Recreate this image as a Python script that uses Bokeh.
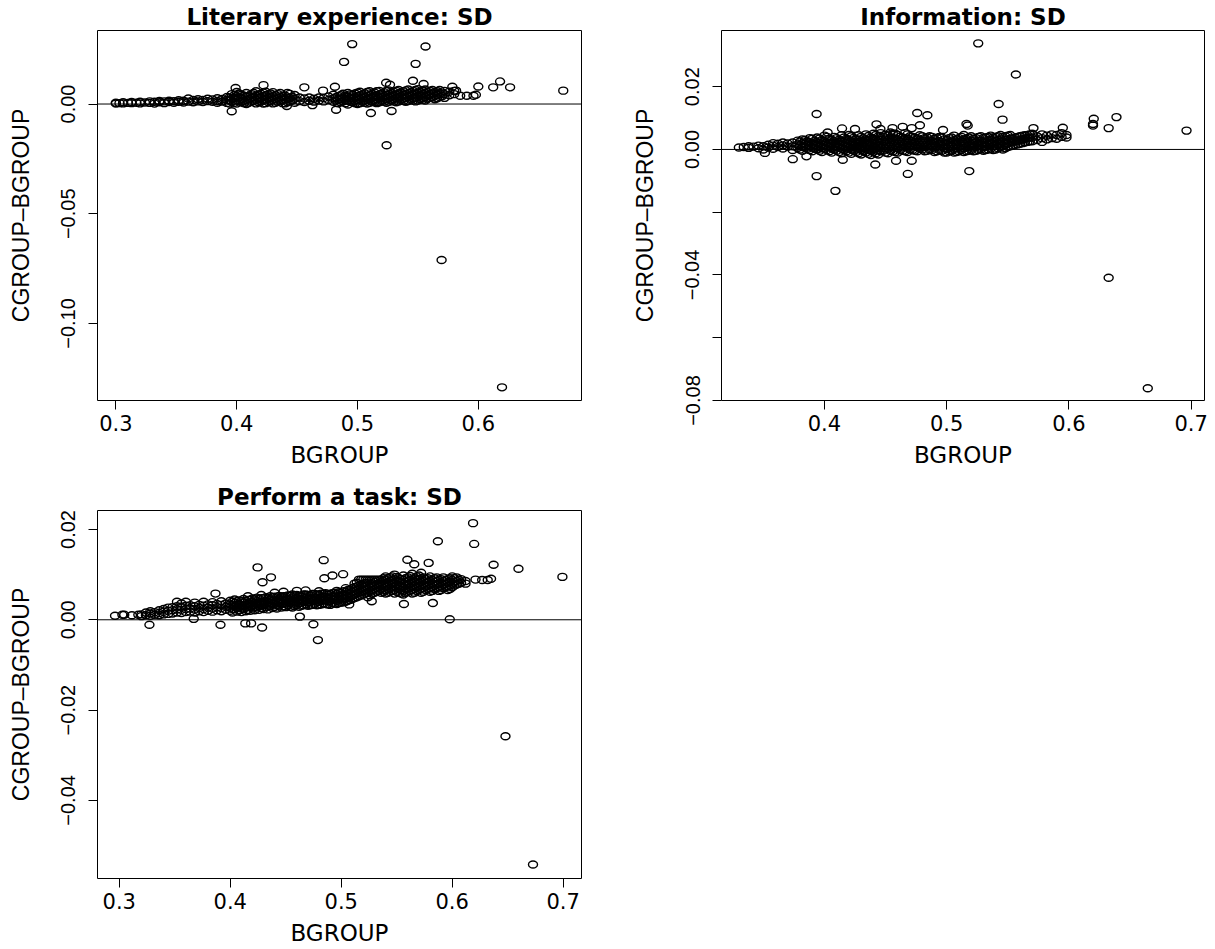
from bokeh.plotting import figure
from bokeh.models import Range1d, FixedTicker, Span, ColumnDataSource
from bokeh.layouts import column, row
from bokeh.embed import file_html
from bokeh.resources import INLINE

X_LABEL = "BGROUP"
Y_LABEL = "CGROUP\u2013BGROUP"
TITLES = ["Literary experience: SD", "Information: SD", "Perform a task: SD"]

# ---------------- Panel 1: Literary experience ----------------
lit_band = [
    (0.300, [0.0002, 0.0006]), (0.303, [0.0004]), (0.306, [0.0003, 0.0008]),
    (0.310, [0.0005]), (0.313, [0.0004, 0.0009]), (0.317, [0.0006]),
    (0.320, [0.0003, 0.0010]), (0.324, [0.0007]), (0.328, [0.0005, 0.0012]),
    (0.332, [0.0002, 0.0010]), (0.336, [0.0008, 0.0014]), (0.340, [0.0004, 0.0012]),
    (0.344, [0.0009, 0.0015]), (0.348, [0.0006, 0.0013]), (0.352, [0.0010, 0.0017]),
    (0.356, [0.0007, 0.0015]), (0.360, [0.0011, 0.0025]), (0.364, [0.0008, 0.0018]),
    (0.368, [0.0012, 0.0022]), (0.372, [0.0009, 0.0019]), (0.376, [0.0013, 0.0024]),
    (0.380, [0.0010, 0.0021]), (0.384, [0.0006, 0.0014, 0.0026]), (0.388, [0.0011, 0.0023]),
    (0.392, [0.0005, 0.0018, 0.0032]), (0.396, [0.0010, 0.0025, 0.0045]),
    (0.400, [0.0002, 0.0020, 0.0036, 0.0055]), (0.404, [0.0008, 0.0024, 0.0042]),
    (0.408, [0.0000, 0.0018, 0.0033, 0.0050]), (0.412, [0.0010, 0.0027, 0.0045]),
    (0.416, [0.0003, 0.0020, 0.0038, 0.0058]), (0.420, [0.0012, 0.0029, 0.0047]),
    (0.424, [0.0004, 0.0021, 0.0040, 0.0056]), (0.428, [0.0013, 0.0030, 0.0048]),
    (0.432, [0.0006, 0.0023, 0.0041]), (0.436, [0.0014, 0.0031, 0.0050]),
    (0.440, [0.0003, 0.0022, 0.0039]), (0.444, [0.0012, 0.0028, 0.0046]),
    (0.448, [0.0006, 0.0024, 0.0041]), (0.452, [0.0013, 0.0030]),
    (0.456, [0.0009, 0.0025]), (0.460, [0.0015, 0.0030]), (0.464, [0.0011, 0.0024]),
    (0.468, [0.0016, 0.0030]), (0.472, [0.0012, 0.0027]), (0.476, [0.0018, 0.0034]),
    (0.480, [0.0010, 0.0026, 0.0042]), (0.484, [0.0004, 0.0020, 0.0036]),
    (0.488, [0.0012, 0.0029, 0.0047]), (0.492, [-0.0002, 0.0016, 0.0033, 0.0050]),
    (0.496, [0.0008, 0.0025, 0.0042]), (0.500, [0.0000, 0.0018, 0.0035, 0.0052]),
    (0.504, [0.0010, 0.0027, 0.0044]), (0.508, [0.0002, 0.0020, 0.0037, 0.0055]),
    (0.512, [0.0012, 0.0029, 0.0046]), (0.516, [0.0004, 0.0022, 0.0039, 0.0058]),
    (0.520, [0.0014, 0.0031, 0.0048]), (0.524, [0.0006, 0.0024, 0.0041, 0.0060]),
    (0.528, [0.0016, 0.0033, 0.0050]), (0.532, [0.0008, 0.0026, 0.0043, 0.0060]),
    (0.536, [0.0018, 0.0035, 0.0052]), (0.540, [0.0010, 0.0028, 0.0045, 0.0062]),
    (0.544, [0.0020, 0.0037, 0.0054]), (0.548, [0.0012, 0.0030, 0.0047, 0.0064]),
    (0.552, [0.0022, 0.0039, 0.0056]), (0.556, [0.0016, 0.0033, 0.0050, 0.0066]),
    (0.560, [0.0028, 0.0044, 0.0060]), (0.564, [0.0022, 0.0038, 0.0055]),
    (0.568, [0.0032, 0.0048, 0.0064]), (0.572, [0.0028, 0.0045, 0.0060]),
    (0.576, [0.0040, 0.0056]), (0.580, [0.0045, 0.0060]),
]
lit_fill = [
    (0.394, [0.0002, 0.0016, 0.0030]), (0.398, [0.0006, 0.0028, 0.0040]),
    (0.402, [0.0012, 0.0030, 0.0048]), (0.406, [0.0004, 0.0014, 0.0038]),
    (0.410, [0.0006, 0.0022, 0.0036]), (0.414, [0.0014, 0.0032, 0.0050]),
    (0.418, [0.0008, 0.0026, 0.0043]), (0.422, [0.0002, 0.0018, 0.0035, 0.0052]),
    (0.426, [0.0009, 0.0026, 0.0044]), (0.430, [0.0003, 0.0020, 0.0036, 0.0054]),
    (0.434, [0.0010, 0.0027, 0.0045]), (0.438, [0.0004, 0.0020, 0.0037]),
    (0.442, [0.0008, 0.0030, 0.0050]), (0.446, [0.0016, 0.0033]),
    (0.482, [0.0016, 0.0031]), (0.486, [0.0008, 0.0024, 0.0040]),
    (0.490, [0.0004, 0.0021, 0.0038]), (0.494, [0.0010, 0.0027, 0.0044]),
    (0.498, [0.0004, 0.0014, 0.0031, 0.0048]), (0.502, [0.0004, 0.0022, 0.0040, 0.0056]),
    (0.506, [0.0006, 0.0016, 0.0032, 0.0049]), (0.510, [0.0006, 0.0024, 0.0041, 0.0058]),
    (0.514, [0.0008, 0.0018, 0.0034, 0.0052]), (0.518, [0.0008, 0.0026, 0.0044, 0.0060]),
    (0.522, [0.0010, 0.0020, 0.0036, 0.0054]), (0.526, [0.0010, 0.0028, 0.0046, 0.0062]),
    (0.530, [0.0012, 0.0022, 0.0039, 0.0056]), (0.534, [0.0012, 0.0030, 0.0048, 0.0064]),
    (0.538, [0.0014, 0.0024, 0.0041, 0.0058]), (0.542, [0.0014, 0.0032, 0.0050, 0.0066]),
    (0.546, [0.0016, 0.0026, 0.0043, 0.0060]), (0.550, [0.0016, 0.0034, 0.0052, 0.0068]),
    (0.554, [0.0020, 0.0028, 0.0045, 0.0062]), (0.558, [0.0024, 0.0040, 0.0056]),
    (0.562, [0.0030, 0.0048, 0.0064]), (0.566, [0.0026, 0.0042, 0.0058]),
    (0.570, [0.0036, 0.0052]),
]
lit_out_x = [0.4956, 0.5563, 0.4889, 0.5481, 0.5459, 0.5237, 0.5269, 0.5547, 0.4222,
             0.4560, 0.4813, 0.4715, 0.3991, 0.5785, 0.5816, 0.6000, 0.6123, 0.6180,
             0.6263, 0.6703, 0.5850, 0.5905, 0.5960, 0.5980, 0.5241, 0.5696, 0.6196,
             0.3959, 0.4823, 0.5111, 0.5282, 0.4627, 0.4415]
lit_out_y = [0.0273, 0.0262, 0.0192, 0.0183, 0.0106, 0.0097, 0.0088, 0.0091, 0.0086,
             0.0076, 0.0079, 0.0061, 0.0073, 0.0079, 0.0061, 0.0080, 0.0076, 0.0103,
             0.0076, 0.0061, 0.0038, 0.0038, 0.0038, 0.0042, -0.0188, -0.0711, -0.1291,
             -0.0033, -0.0026, -0.0041, -0.0032, -0.0005, -0.0009]

# ---------------- Panel 2: Information ----------------
inf_band = [
    (0.330, [0.0006]), (0.334, [0.0008]), (0.338, [0.0005, 0.0010]), (0.342, [0.0009]),
    (0.346, [0.0004, 0.0012]), (0.350, [0.0000, 0.0010]), (0.354, [0.0006, 0.0015]),
    (0.358, [0.0002, 0.0012, 0.0020]), (0.362, [0.0008, 0.0018]),
    (0.366, [0.0003, 0.0013, 0.0022]), (0.370, [0.0009, 0.0019]),
    (0.374, [-0.0002, 0.0010, 0.0022]), (0.378, [0.0005, 0.0016, 0.0028]),
    (0.382, [-0.0004, 0.0008, 0.0020, 0.0032]), (0.386, [0.0002, 0.0014, 0.0026]),
    (0.390, [-0.0006, 0.0006, 0.0018, 0.0034]), (0.394, [0.0000, 0.0012, 0.0024, 0.0038]),
    (0.398, [-0.0008, 0.0004, 0.0016, 0.0030]), (0.402, [-0.0002, 0.0010, 0.0022, 0.0040]),
    (0.406, [-0.0010, 0.0004, 0.0017, 0.0031]), (0.410, [-0.0004, 0.0008, 0.0021, 0.0036]),
    (0.414, [-0.0012, 0.0002, 0.0015, 0.0028, 0.0045]),
    (0.418, [-0.0006, 0.0008, 0.0020, 0.0034]),
    (0.422, [-0.0014, 0.0000, 0.0013, 0.0027, 0.0042]),
    (0.426, [-0.0008, 0.0006, 0.0019, 0.0033]),
    (0.430, [-0.0016, -0.0002, 0.0012, 0.0026, 0.0040]),
    (0.434, [-0.0010, 0.0004, 0.0018, 0.0032, 0.0048]),
    (0.438, [-0.0018, -0.0004, 0.0010, 0.0024, 0.0038]),
    (0.442, [-0.0012, 0.0003, 0.0017, 0.0031, 0.0046]),
    (0.446, [-0.0006, 0.0008, 0.0022, 0.0036, 0.0052]),
    (0.450, [-0.0010, 0.0004, 0.0018, 0.0032, 0.0047]),
    (0.454, [-0.0004, 0.0010, 0.0024, 0.0038, 0.0054]),
    (0.458, [-0.0008, 0.0006, 0.0020, 0.0034, 0.0050]),
    (0.462, [-0.0002, 0.0012, 0.0026, 0.0040]),
    (0.466, [-0.0006, 0.0008, 0.0022, 0.0036, 0.0052]),
    (0.470, [0.0000, 0.0014, 0.0028, 0.0042]), (0.474, [-0.0004, 0.0010, 0.0024, 0.0038]),
    (0.478, [0.0002, 0.0016, 0.0030, 0.0045]), (0.482, [-0.0006, 0.0008, 0.0022, 0.0036]),
    (0.486, [0.0000, 0.0014, 0.0028, 0.0042]), (0.490, [-0.0008, 0.0006, 0.0020, 0.0034]),
    (0.494, [-0.0002, 0.0012, 0.0026, 0.0040]), (0.498, [-0.0010, 0.0004, 0.0018, 0.0032]),
    (0.502, [-0.0006, 0.0008, 0.0022, 0.0036]),
    (0.506, [-0.0010, 0.0002, 0.0016, 0.0030, 0.0044]),
    (0.510, [-0.0006, 0.0008, 0.0022, 0.0036]),
    (0.514, [-0.0008, 0.0004, 0.0018, 0.0032, 0.0046]),
    (0.518, [-0.0004, 0.0010, 0.0024, 0.0038]), (0.522, [-0.0006, 0.0006, 0.0020, 0.0034]),
    (0.526, [-0.0002, 0.0012, 0.0026, 0.0040]), (0.530, [-0.0004, 0.0008, 0.0022, 0.0036]),
    (0.534, [0.0000, 0.0014, 0.0028, 0.0040]), (0.538, [-0.0002, 0.0010, 0.0024, 0.0038]),
    (0.542, [0.0004, 0.0016, 0.0030, 0.0042]), (0.546, [0.0000, 0.0012, 0.0026, 0.0040]),
    (0.550, [0.0008, 0.0020, 0.0032, 0.0044]), (0.554, [0.0012, 0.0024, 0.0036]),
    (0.558, [0.0016, 0.0028, 0.0040]), (0.562, [0.0020, 0.0032, 0.0044]),
    (0.566, [0.0024, 0.0036, 0.0046]), (0.570, [0.0026, 0.0038, 0.0050]),
    (0.574, [0.0030, 0.0042]), (0.578, [0.0024, 0.0036, 0.0048]),
    (0.582, [0.0032, 0.0044]), (0.586, [0.0036, 0.0048]), (0.590, [0.0034, 0.0046]),
    (0.594, [0.0040, 0.0052]), (0.598, [0.0038, 0.0046]),
]
inf_fill = [
    (0.380, [0.0000, 0.0013, 0.0025]), (0.384, [0.0006, 0.0018, 0.0030]),
    (0.388, [-0.0002, 0.0010, 0.0023, 0.0036]), (0.392, [0.0003, 0.0015, 0.0028]),
    (0.396, [-0.0004, 0.0008, 0.0021, 0.0035]), (0.400, [0.0002, 0.0014, 0.0027, 0.0044]),
    (0.404, [-0.0006, 0.0007, 0.0020, 0.0034]), (0.408, [0.0000, 0.0012, 0.0026, 0.0040]),
    (0.412, [-0.0008, 0.0005, 0.0018, 0.0031]), (0.416, [-0.0002, 0.0011, 0.0024, 0.0038]),
    (0.420, [-0.0010, 0.0004, 0.0017, 0.0030, 0.0046]),
    (0.424, [-0.0004, 0.0010, 0.0023, 0.0037]),
    (0.428, [-0.0012, 0.0002, 0.0016, 0.0030, 0.0045]),
    (0.432, [-0.0006, 0.0008, 0.0022, 0.0036]),
    (0.436, [-0.0014, 0.0000, 0.0014, 0.0028, 0.0043]),
    (0.440, [-0.0008, 0.0006, 0.0020, 0.0034, 0.0050]),
    (0.444, [-0.0016, -0.0002, 0.0012, 0.0026, 0.0041]),
    (0.448, [-0.0004, 0.0011, 0.0025, 0.0040]),
    (0.452, [-0.0012, 0.0002, 0.0016, 0.0030, 0.0044]),
    (0.456, [-0.0006, 0.0008, 0.0022, 0.0036, 0.0050]),
    (0.460, [-0.0010, 0.0004, 0.0018, 0.0032, 0.0046]),
    (0.464, [-0.0004, 0.0010, 0.0024, 0.0038]),
    (0.468, [-0.0008, 0.0006, 0.0020, 0.0034, 0.0048]),
    (0.472, [-0.0002, 0.0012, 0.0026, 0.0040]), (0.476, [-0.0006, 0.0008, 0.0022, 0.0036]),
    (0.480, [0.0000, 0.0014, 0.0028, 0.0042]), (0.484, [-0.0004, 0.0010, 0.0024, 0.0038]),
    (0.488, [-0.0002, 0.0012, 0.0026, 0.0040]), (0.492, [-0.0006, 0.0008, 0.0022, 0.0036]),
    (0.496, [-0.0004, 0.0010, 0.0024, 0.0038]), (0.500, [-0.0010, 0.0002, 0.0016, 0.0030]),
    (0.504, [-0.0004, 0.0010, 0.0024, 0.0038]), (0.508, [-0.0008, 0.0004, 0.0018, 0.0032]),
    (0.512, [-0.0002, 0.0012, 0.0026, 0.0040]), (0.516, [-0.0006, 0.0006, 0.0020, 0.0034]),
    (0.520, [-0.0002, 0.0012, 0.0028, 0.0042]), (0.524, [-0.0004, 0.0008, 0.0022, 0.0036]),
    (0.528, [0.0000, 0.0014, 0.0028, 0.0042]), (0.532, [-0.0002, 0.0010, 0.0024, 0.0038]),
    (0.536, [0.0002, 0.0016, 0.0030, 0.0044]), (0.540, [0.0000, 0.0012, 0.0026, 0.0040]),
    (0.544, [0.0006, 0.0018, 0.0032, 0.0046]), (0.548, [0.0004, 0.0016, 0.0030, 0.0042]),
    (0.552, [0.0010, 0.0022, 0.0034, 0.0046]), (0.556, [0.0014, 0.0026, 0.0038]),
    (0.560, [0.0018, 0.0030, 0.0042]), (0.564, [0.0022, 0.0034, 0.0045]),
    (0.568, [0.0026, 0.0038, 0.0048]),
]
inf_out_x = [0.5258, 0.5566, 0.5425, 0.5457, 0.3936, 0.4759, 0.4842, 0.6203, 0.6197,
             0.6197, 0.6389, 0.6325, 0.6962, 0.5950, 0.5710, 0.5162, 0.5172, 0.4426,
             0.4144, 0.4250, 0.4458, 0.4557, 0.4640, 0.4714, 0.4781, 0.4970, 0.4026,
             0.3741, 0.3853, 0.3936, 0.4090, 0.4150, 0.4416, 0.4586, 0.4682, 0.4714,
             0.5185, 0.3513, 0.6325, 0.6645]
inf_out_y = [0.0338, 0.0239, 0.0145, 0.0095, 0.0113, 0.0116, 0.0109, 0.0098, 0.0081,
             0.0076, 0.0103, 0.0068, 0.0060, 0.0069, 0.0068, 0.0081, 0.0076, 0.0080,
             0.0067, 0.0065, 0.0065, 0.0068, 0.0072, 0.0068, 0.0077, 0.0062, 0.0054,
             -0.0031, -0.0022, -0.0085, -0.0132, -0.0033, -0.0048, -0.0036, -0.0078,
             -0.0036, -0.0069, -0.0011, -0.0409, -0.0761]

# ---------------- Panel 3: Perform a task ----------------
task_band = [
    (0.320, [0.0008, 0.0012]), (0.324, [0.0010, 0.0016]), (0.328, [0.0009, 0.0014, 0.0019]),
    (0.332, [0.0011, 0.0017]), (0.336, [0.0010, 0.0015, 0.0021]),
    (0.340, [0.0012, 0.0018, 0.0024]), (0.344, [0.0013, 0.0020, 0.0027]),
    (0.348, [0.0014, 0.0021, 0.0028]), (0.352, [0.0016, 0.0023, 0.0030, 0.0040]),
    (0.356, [0.0015, 0.0022, 0.0029, 0.0036]), (0.360, [0.0017, 0.0024, 0.0031, 0.0040]),
    (0.364, [0.0018, 0.0025, 0.0032]), (0.368, [0.0016, 0.0023, 0.0030, 0.0038]),
    (0.372, [0.0019, 0.0026, 0.0033]), (0.376, [0.0017, 0.0024, 0.0031, 0.0040]),
    (0.380, [0.0020, 0.0027, 0.0034]), (0.384, [0.0018, 0.0025, 0.0032, 0.0039]),
    (0.388, [0.0021, 0.0028, 0.0035]), (0.392, [0.0019, 0.0026, 0.0033, 0.0041]),
    (0.396, [0.0022, 0.0029, 0.0036]), (0.400, [0.0020, 0.0027, 0.0034, 0.0042]),
    (0.404, [0.0023, 0.0030, 0.0037, 0.0045]), (0.408, [0.0021, 0.0028, 0.0035, 0.0043]),
    (0.412, [0.0024, 0.0031, 0.0038, 0.0046]),
    (0.416, [0.0022, 0.0029, 0.0036, 0.0044, 0.0052]),
    (0.420, [0.0025, 0.0032, 0.0039, 0.0047]), (0.424, [0.0027, 0.0034, 0.0041, 0.0049]),
    (0.428, [0.0026, 0.0033, 0.0040, 0.0048, 0.0055]),
    (0.432, [0.0028, 0.0035, 0.0042, 0.0050]), (0.436, [0.0030, 0.0037, 0.0044, 0.0052]),
    (0.440, [0.0029, 0.0036, 0.0043, 0.0051, 0.0060]),
    (0.444, [0.0031, 0.0038, 0.0045, 0.0053]),
    (0.448, [0.0030, 0.0037, 0.0044, 0.0052, 0.0062]),
    (0.452, [0.0032, 0.0039, 0.0046, 0.0054]),
    (0.456, [0.0027, 0.0034, 0.0041, 0.0048, 0.0056]),
    (0.460, [0.0033, 0.0040, 0.0047, 0.0055, 0.0064]),
    (0.464, [0.0031, 0.0038, 0.0045, 0.0053]),
    (0.468, [0.0034, 0.0041, 0.0048, 0.0056, 0.0065]),
    (0.472, [0.0032, 0.0039, 0.0046, 0.0054]), (0.476, [0.0035, 0.0042, 0.0049, 0.0057]),
    (0.480, [0.0033, 0.0040, 0.0047, 0.0055, 0.0063]),
    (0.484, [0.0036, 0.0043, 0.0050, 0.0058]), (0.488, [0.0034, 0.0041, 0.0048, 0.0056]),
    (0.492, [0.0037, 0.0044, 0.0051, 0.0059]),
    (0.496, [0.0035, 0.0042, 0.0049, 0.0057, 0.0064]),
    (0.500, [0.0038, 0.0045, 0.0052, 0.0060]),
    (0.504, [0.0040, 0.0047, 0.0054, 0.0062, 0.0070]),
    (0.508, [0.0044, 0.0051, 0.0058, 0.0066]),
    (0.512, [0.0048, 0.0056, 0.0064, 0.0072, 0.0080]),
    (0.516, [0.0052, 0.0060, 0.0068, 0.0076, 0.0089]),
    (0.520, [0.0056, 0.0064, 0.0072, 0.0080, 0.0089]),
    (0.524, [0.0050, 0.0060, 0.0068, 0.0076, 0.0089]),
    (0.528, [0.0058, 0.0066, 0.0074, 0.0081, 0.0089]),
    (0.532, [0.0062, 0.0070, 0.0078, 0.0089]),
    (0.536, [0.0060, 0.0068, 0.0076, 0.0083, 0.0089]),
    (0.540, [0.0058, 0.0066, 0.0074, 0.0081, 0.0089, 0.0096]),
    (0.544, [0.0062, 0.0070, 0.0078, 0.0086, 0.0094]),
    (0.548, [0.0058, 0.0066, 0.0074, 0.0082, 0.0090, 0.0100]),
    (0.552, [0.0060, 0.0068, 0.0076, 0.0084, 0.0092]),
    (0.556, [0.0056, 0.0064, 0.0072, 0.0080, 0.0088, 0.0098]),
    (0.560, [0.0062, 0.0070, 0.0078, 0.0086, 0.0094]),
    (0.564, [0.0058, 0.0066, 0.0074, 0.0082, 0.0090, 0.0102]),
    (0.568, [0.0064, 0.0072, 0.0080, 0.0088, 0.0096]),
    (0.572, [0.0060, 0.0068, 0.0076, 0.0084, 0.0092, 0.0104]),
    (0.576, [0.0066, 0.0074, 0.0082, 0.0090]),
    (0.580, [0.0062, 0.0070, 0.0078, 0.0086, 0.0096]),
    (0.584, [0.0068, 0.0076, 0.0084, 0.0092]), (0.588, [0.0064, 0.0072, 0.0080, 0.0088]),
    (0.592, [0.0070, 0.0078, 0.0086, 0.0094]), (0.596, [0.0066, 0.0074, 0.0082, 0.0090]),
    (0.600, [0.0072, 0.0080, 0.0088, 0.0096]), (0.604, [0.0078, 0.0086, 0.0094]),
    (0.608, [0.0082, 0.0090]), (0.612, [0.0080, 0.0086]),
]
task_fill = [
    (0.402, [0.0016, 0.0024, 0.0032, 0.0040]), (0.406, [0.0018, 0.0026, 0.0033, 0.0041]),
    (0.410, [0.0017, 0.0025, 0.0033, 0.0041]), (0.414, [0.0019, 0.0027, 0.0034, 0.0042]),
    (0.418, [0.0020, 0.0028, 0.0036, 0.0044]), (0.422, [0.0021, 0.0029, 0.0037, 0.0045]),
    (0.426, [0.0022, 0.0030, 0.0038, 0.0046]), (0.430, [0.0024, 0.0032, 0.0040, 0.0048]),
    (0.434, [0.0023, 0.0031, 0.0039, 0.0047]), (0.438, [0.0026, 0.0034, 0.0042, 0.0050]),
    (0.442, [0.0025, 0.0033, 0.0041, 0.0049]), (0.446, [0.0027, 0.0035, 0.0043, 0.0051]),
    (0.450, [0.0028, 0.0036, 0.0044, 0.0052]), (0.454, [0.0029, 0.0037, 0.0045, 0.0053]),
    (0.458, [0.0030, 0.0038, 0.0046, 0.0054]), (0.462, [0.0029, 0.0037, 0.0045, 0.0053]),
    (0.466, [0.0032, 0.0040, 0.0048, 0.0056]), (0.470, [0.0031, 0.0039, 0.0047, 0.0055]),
    (0.474, [0.0033, 0.0041, 0.0049, 0.0057]), (0.478, [0.0032, 0.0040, 0.0048, 0.0056]),
    (0.482, [0.0034, 0.0042, 0.0050, 0.0058]), (0.486, [0.0035, 0.0043, 0.0051, 0.0059]),
    (0.490, [0.0033, 0.0041, 0.0049, 0.0057]), (0.494, [0.0036, 0.0044, 0.0052, 0.0060]),
    (0.498, [0.0037, 0.0045, 0.0053, 0.0061]), (0.502, [0.0039, 0.0047, 0.0055, 0.0063]),
    (0.506, [0.0042, 0.0050, 0.0058, 0.0066]), (0.510, [0.0046, 0.0054, 0.0062, 0.0070]),
    (0.514, [0.0050, 0.0058, 0.0066, 0.0074, 0.0082]),
    (0.518, [0.0054, 0.0062, 0.0070, 0.0078, 0.0089]),
    (0.522, [0.0058, 0.0066, 0.0074, 0.0082, 0.0089]),
    (0.526, [0.0054, 0.0064, 0.0072, 0.0080, 0.0089]),
    (0.530, [0.0060, 0.0068, 0.0076, 0.0084, 0.0089]),
    (0.534, [0.0064, 0.0072, 0.0080, 0.0089]),
    (0.538, [0.0062, 0.0070, 0.0078, 0.0086, 0.0092]),
    (0.542, [0.0060, 0.0068, 0.0076, 0.0084, 0.0092]),
    (0.546, [0.0064, 0.0072, 0.0080, 0.0088, 0.0096]),
    (0.550, [0.0062, 0.0070, 0.0078, 0.0086, 0.0095]),
    (0.554, [0.0058, 0.0066, 0.0074, 0.0082, 0.0090]),
    (0.558, [0.0060, 0.0068, 0.0076, 0.0084, 0.0092]),
    (0.562, [0.0064, 0.0072, 0.0080, 0.0088, 0.0097]),
    (0.566, [0.0060, 0.0068, 0.0076, 0.0084, 0.0092]),
    (0.570, [0.0066, 0.0074, 0.0082, 0.0090, 0.0098]),
    (0.574, [0.0062, 0.0070, 0.0078, 0.0086, 0.0094]),
    (0.578, [0.0068, 0.0076, 0.0084, 0.0092]), (0.582, [0.0064, 0.0072, 0.0080, 0.0088]),
    (0.586, [0.0070, 0.0078, 0.0086, 0.0094]), (0.590, [0.0066, 0.0074, 0.0082, 0.0090]),
    (0.594, [0.0072, 0.0080, 0.0088]), (0.598, [0.0068, 0.0076, 0.0084, 0.0092]),
    (0.602, [0.0076, 0.0084, 0.0092]), (0.606, [0.0080, 0.0088]),
]
task_out_x = [0.6188, 0.6198, 0.5871, 0.4842, 0.5596, 0.5658, 0.5788, 0.4246, 0.6373,
              0.6597, 0.6993, 0.4367, 0.4291, 0.5017, 0.4921, 0.4848, 0.3867, 0.6210,
              0.6270, 0.6320, 0.6350, 0.5565, 0.5826, 0.5275, 0.5072, 0.5978, 0.4628,
              0.3671, 0.3272, 0.3912, 0.4136, 0.4188, 0.4287, 0.4749, 0.4790, 0.6480,
              0.6728, 0.2962, 0.3028, 0.3045, 0.3114, 0.3172]
task_out_y = [0.0214, 0.0168, 0.0174, 0.0132, 0.0133, 0.0123, 0.0126, 0.0116, 0.0122,
              0.0113, 0.0095, 0.0094, 0.0083, 0.0101, 0.0098, 0.0092, 0.0058, 0.0089,
              0.0088, 0.0088, 0.0091, 0.0035, 0.0037, 0.0041, 0.0034, 0.0001, 0.0007,
              0.0002, -0.0011, -0.0011, -0.0008, -0.0008, -0.0017, -0.0010, -0.0045,
              -0.0258, -0.0542, 0.0009, 0.0011, 0.0011, 0.0010, 0.0011]

# axis ticks and labels
lit_xticks = [0.3, 0.4, 0.5, 0.6]
lit_yticks = [0.0, -0.05, -0.10]
lit_ylabels = ["0.00", "\u22120.05", "\u22120.10"]
inf_xticks = [0.4, 0.5, 0.6, 0.7]
inf_yticks = [0.02, 0.0, -0.02, -0.04, -0.06, -0.08]
inf_ylabels = ["0.02", "0.00", "", "\u22120.04", "", "\u22120.08"]
task_xticks = [0.3, 0.4, 0.5, 0.6, 0.7]
task_yticks = [0.02, 0.0, -0.02, -0.04]
task_ylabels = ["0.02", "0.00", "\u22120.02", "\u22120.04"]


def expand(bands, ox, oy):
    xs, ys = [], []
    for band in bands:
        for x, yl in band:
            for y in yl:
                xs.append(x)
                ys.append(y)
    return xs + list(ox), ys + list(oy)


def panel(title, xs, ys, xr, yr, xticks, yticks, ylabels, width, height, right, bottom):
    p = figure(width=width, height=height, output_backend="svg", toolbar_location=None,
               x_range=Range1d(*xr), y_range=Range1d(*yr),
               min_border_left=97, min_border_right=right, min_border_top=29,
               min_border_bottom=bottom, title=title)
    p.background_fill_color = "white"
    p.border_fill_color = "white"
    p.outline_line_color = "black"
    p.outline_line_width = 1
    p.grid.visible = False
    p.title.align = "center"
    p.title.text_font = "DejaVu Sans"
    p.title.text_font_style = "bold"
    p.title.text_font_size = "23px"
    p.title.text_color = "black"
    p.title.standoff = 2

    for ax in (p.xaxis[0], p.yaxis[0]):
        ax.axis_line_color = None
        ax.major_tick_line_color = "black"
        ax.major_tick_out = 9
        ax.major_tick_in = 0
        ax.minor_tick_line_color = None
        ax.major_label_text_color = "black"
        ax.axis_label_text_color = "black"
        ax.axis_label_text_font_style = "normal"

    xa = p.xaxis[0]
    xa.ticker = FixedTicker(ticks=xticks)
    xa.major_label_overrides = {t: ("%.1f" % t) for t in xticks}
    xa.major_label_text_font = "DejaVu Sans"
    xa.major_label_text_font_size = "21px"
    xa.major_label_standoff = 5
    xa.axis_label = X_LABEL
    xa.axis_label_text_font = "DejaVu Sans"
    xa.axis_label_text_font_size = "23px"
    xa.axis_label_standoff = 8

    ya = p.yaxis[0]
    ya.ticker = FixedTicker(ticks=yticks)
    ya.major_label_overrides = dict(zip(yticks, ylabels))
    ya.major_label_orientation = "parallel"
    ya.major_label_text_font = "Liberation Sans"
    ya.major_label_text_font_size = "20px"
    ya.major_label_standoff = 13
    ya.axis_label = Y_LABEL
    ya.axis_label_text_font = "Liberation Sans"
    ya.axis_label_text_font_size = "23px"
    ya.axis_label_standoff = 25

    p.add_layout(Span(location=0, dimension="width", line_color="black", line_width=1))
    src = ColumnDataSource(data=dict(x=xs, y=ys))
    p.ellipse(x="x", y="y", width=9, height=7, width_units="screen", height_units="screen",
              source=src, fill_color=None, line_color="black", line_width=1.4)
    return p


lx, ly = expand([lit_band, lit_fill], lit_out_x, lit_out_y)
ix, iy = expand([inf_band, inf_fill], inf_out_x, inf_out_y)
tx, ty = expand([task_band, task_fill], task_out_x, task_out_y)

p1 = panel(TITLES[0], lx, ly, (0.2848, 0.6854), (-0.1351, 0.0335),
           lit_xticks, lit_yticks, lit_ylabels, 624, 480, 43, 80)
p2 = panel(TITLES[1], ix, iy, (0.3158, 0.7109), (-0.0800, 0.0379),
           inf_xticks, inf_yticks, inf_ylabels, 591, 480, 11, 79)
p3 = panel(TITLES[2], tx, ty, (0.2804, 0.7165), (-0.0573, 0.0242),
           task_xticks, task_yticks, task_ylabels, 624, 468, 43, 68)

layout = column(row(p1, p2), p3)
open("out.html", "w").write(file_html(layout, INLINE))
